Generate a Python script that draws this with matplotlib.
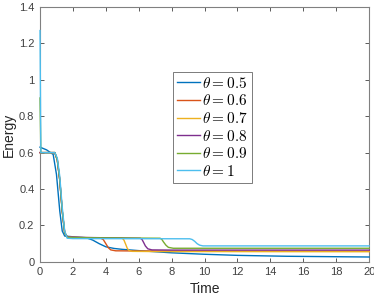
import numpy as np
import matplotlib.pyplot as plt

plt.rcParams['font.family'] = ['Liberation Sans', 'DejaVu Sans']
plt.rcParams['mathtext.fontset'] = 'cm'

# Values (time, energy) per theta
labels = [r'$\theta = 0.5$', r'$\theta = 0.6$', r'$\theta = 0.7$',
          r'$\theta = 0.8$', r'$\theta = 0.9$', r'$\theta = 1$']

t_05 = [0, 0.4, 0.8, 1.0, 1.2, 1.35, 1.5, 2.0, 2.8, 3.2, 3.6, 4.0, 4.5, 5, 6, 8, 10, 12, 15, 20]
e_05 = [0.63, 0.615, 0.59, 0.48, 0.28, 0.17, 0.142, 0.138, 0.133, 0.12, 0.1, 0.083, 0.074, 0.069,
        0.062, 0.05, 0.042, 0.036, 0.031, 0.027]

t_06 = [0, 0.05, 0.9, 1.05, 1.2, 1.35, 1.5, 1.65, 2.0, 3.7, 3.85, 4.0, 4.15, 4.3, 4.6, 6, 20]
e_06 = [0.6, 0.6, 0.6, 0.56, 0.45, 0.28, 0.16, 0.138, 0.135, 0.13, 0.122, 0.1, 0.078, 0.066, 0.061, 0.06, 0.059]

t_07 = [0, 0.05, 0.9, 1.05, 1.2, 1.35, 1.5, 1.65, 2.0, 5.0, 5.1, 5.2, 5.3, 5.4, 5.6, 7, 20]
e_07 = [0.6, 0.6, 0.6, 0.56, 0.45, 0.28, 0.16, 0.138, 0.135, 0.13, 0.12, 0.098, 0.075, 0.063, 0.058, 0.057, 0.056]

t_08 = [0, 0.05, 0.9, 1.05, 1.2, 1.35, 1.5, 1.65, 2.0, 6.1, 6.2, 6.3, 6.4, 6.55, 6.8, 8, 20]
e_08 = [0.6, 0.6, 0.6, 0.56, 0.45, 0.28, 0.16, 0.138, 0.135, 0.13, 0.123, 0.106, 0.088, 0.072, 0.066, 0.065, 0.065]

t_09 = [0, 0.05, 0.9, 1.05, 1.2, 1.35, 1.5, 1.65, 2.0, 7.3, 7.4, 7.5, 7.65, 7.8, 8.1, 9, 20]
e_09 = [0.9, 0.6, 0.6, 0.56, 0.45, 0.28, 0.16, 0.136, 0.133, 0.13, 0.124, 0.11, 0.092, 0.08, 0.075, 0.075, 0.075]

t_10 = [0, 0.05, 0.9, 1.05, 1.2, 1.35, 1.5, 1.65, 2.0, 9.1, 9.25, 9.4, 9.55, 9.7, 9.9, 11, 20]
e_10 = [1.27, 0.6, 0.6, 0.57, 0.47, 0.3, 0.17, 0.13, 0.128, 0.127, 0.123, 0.113, 0.1, 0.092, 0.088, 0.088, 0.088]

times = [t_05, t_06, t_07, t_08, t_09, t_10]
energies = [e_05, e_06, e_07, e_08, e_09, e_10]
colors = ['#0072BD', '#D95319', '#EDB120', '#7E2F8E', '#77AC30', '#4DBEEE']

fig = plt.figure(figsize=(3.74, 2.99), dpi=100)
ax = fig.add_axes([0.107, 0.124, 0.880, 0.853])

for t, e, c, lab in zip(times, energies, colors, labels):
    ax.plot(t, e, color=c, lw=1.0, label=lab, zorder=3, clip_on=False)

ax.set_xlim(0, 20)
ax.set_ylim(0, 1.4)
ax.set_xticks(np.arange(0, 21, 2))
ax.set_yticks([0, 0.2, 0.4, 0.6, 0.8, 1, 1.2, 1.4])
ax.set_yticklabels(['0', '0.2', '0.4', '0.6', '0.8', '1', '1.2', '1.4'])
ax.tick_params(direction='in', top=True, right=True, length=3, width=0.6,
               labelsize=8, colors='#404040', pad=4)
for s in ax.spines.values():
    s.set_color('#808080')
    s.set_linewidth(0.8)

ax.set_xlabel('Time', fontsize=10, color='#262626', labelpad=3)
ax.set_ylabel('Energy', fontsize=10, color='#262626', labelpad=2)

leg = ax.legend(loc='upper left', bbox_to_anchor=(0.405, 0.745), fontsize=11,
                frameon=True, fancybox=False, handlelength=1.5, handletextpad=0.15,
                labelspacing=0.17, borderpad=0.25, borderaxespad=0)
leg.get_frame().set_edgecolor('#404040')
leg.get_frame().set_linewidth(0.6)

plt.savefig('out.png', dpi=100)
